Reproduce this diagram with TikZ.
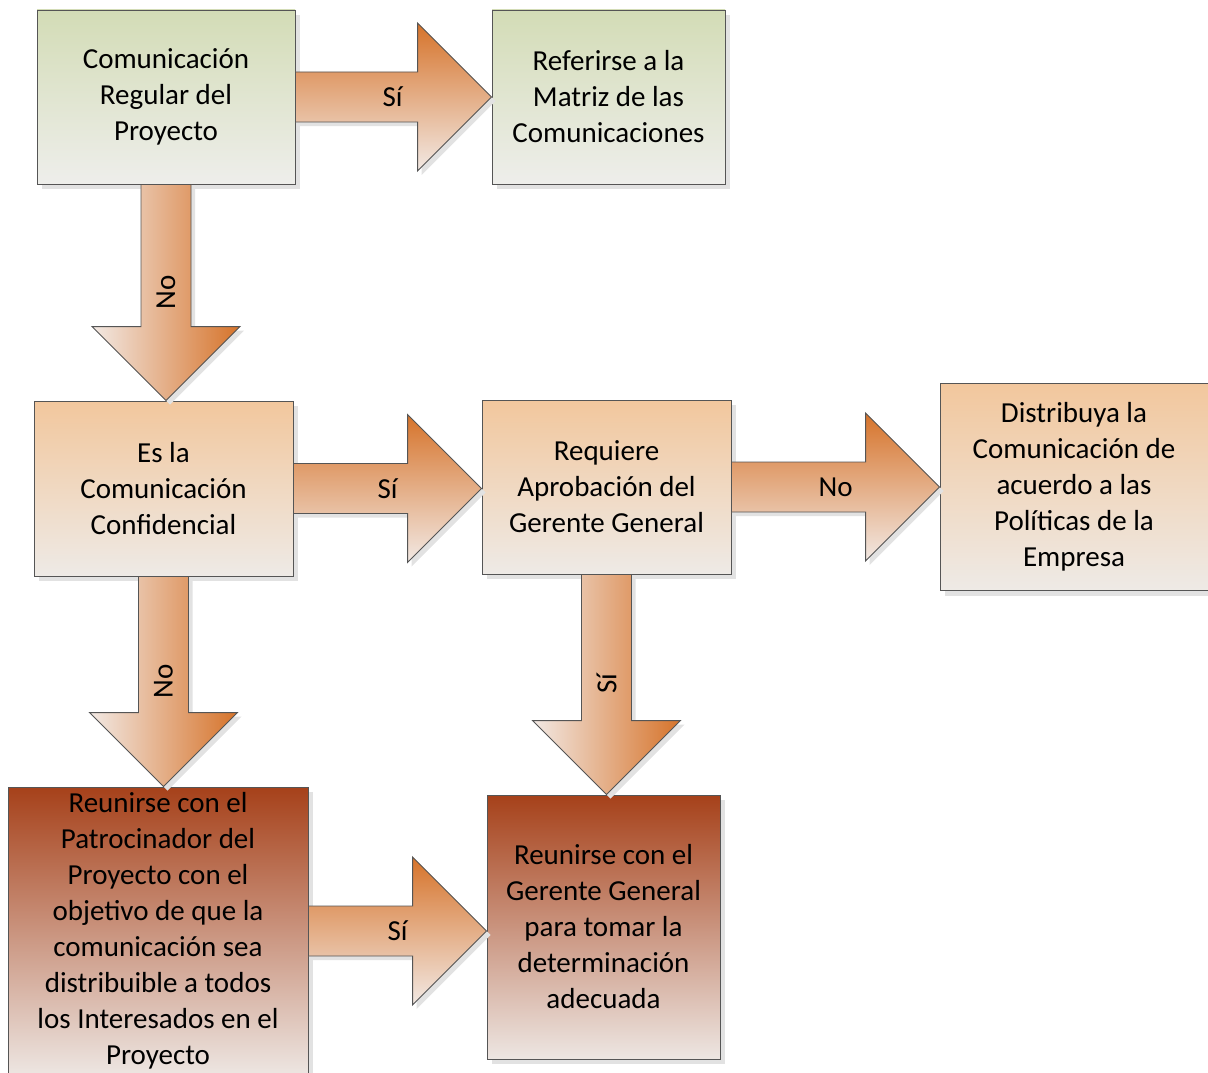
\documentclass[tikz,border=0pt]{standalone}
\usepackage{fontspec}
\setmainfont{Carlito}
\usetikzlibrary{calc,shadows}
\definecolor{boxline}{HTML}{555555}
\definecolor{shadowgray}{HTML}{E2E2E2}
\definecolor{gtop}{HTML}{D3DCB6}
\definecolor{gbot}{HTML}{EEEEEB}
\definecolor{otop}{HTML}{F2C79D}
\definecolor{obot}{HTML}{EEEAE6}
\definecolor{dtop}{HTML}{A6411A}
\definecolor{dmid}{HTML}{CB9075}
\definecolor{dbot}{HTML}{EDE6E2}
\definecolor{adark}{HTML}{D6732A}
\definecolor{amid}{HTML}{E3A675}
\definecolor{alight}{HTML}{F2E9E4}
\tikzset{
  box/.style={draw=boxline, line width=0.9pt, inner sep=0pt, align=center,
    font=\fontsize{29}{36}\selectfont,
    drop shadow={shadow xshift=5pt, shadow yshift=-5pt, fill=shadowgray, opacity=1}},
  greenbox/.style={box, top color=gtop, bottom color=gbot},
  orangebox/.style={box, top color=otop, bottom color=obot},
  darkbox/.style={box, top color=dtop, middle color=dmid, bottom color=dbot},
  arrowR/.style={draw=boxline, line width=0.9pt, line join=miter,
    top color=adark, middle color=amid, bottom color=alight,
    preaction={fill=shadowgray, transform canvas={xshift=4pt, yshift=-4pt}}},
  arrowD/.style={draw=boxline, line width=0.9pt, line join=miter,
    left color=alight, middle color=amid, right color=adark,
    preaction={fill=shadowgray, transform canvas={xshift=4pt, yshift=-4pt}}},
  lbl/.style={font=\fontsize{29}{36}\selectfont, inner sep=0pt}
}
% #1 from node, #2 to node, #3 label, #4 label distance back from head
\newcommand{\myRarrow}[4]{%
  \shade[arrowR] let \p1=(#1.east), \p2=(#2.west), \n1={\x2-74pt} in
    (\x1,\y1+25pt) -- (\n1,\y1+25pt) -- (\n1,\y1+74pt) -- (\x2,\y1)
    -- (\n1,\y1-74pt) -- (\n1,\y1-25pt) -- (\x1,\y1-25pt) -- cycle
    node[lbl] at (\n1-#4,\y1) {#3};}
\newcommand{\myDarrow}[4]{%
  \shade[arrowD] let \p1=(#1.south), \p2=(#2.north), \n1={\y2+74pt} in
    (\x1-25pt,\y1) -- (\x1-25pt,\n1) -- (\x1-74pt,\n1) -- (\x1,\y2)
    -- (\x1+74pt,\n1) -- (\x1+25pt,\n1) -- (\x1+25pt,\y1) -- cycle
    node[lbl, rotate=90] at (\x1,\n1+#4) {#3};}
\begin{document}
\begin{tikzpicture}[x=1pt, y=-1pt]
\useasboundingbox (0,0) rectangle (1208,1073);
\node[greenbox, minimum width=258pt, minimum height=174pt] (reg) at (166,97)
  {Comunicación\\Regular del\\Proyecto};
\node[greenbox, minimum width=233pt, minimum height=174pt] (mat) at (608.5,97)
  {Referirse a la\\Matriz de las\\Comunicaciones};
\node[orangebox, minimum width=259pt, minimum height=175pt] (conf) at (163.5,488.5)
  {Es la\\Comunicación\\Confidencial};
\node[orangebox, minimum width=249pt, minimum height=174pt] (apr) at (606.5,487)
  {Requiere\\Aprobación del\\Gerente General};
\node[orangebox, minimum width=268pt, minimum height=207pt] (dist) at (1074,487)
  {Distribuya la\\Comunicación de\\acuerdo a las\\Políticas de la\\Empresa};
\node[darkbox, minimum width=300pt, minimum height=288pt] (pat) at (158,931)
  {Reunirse con el\\Patrocinador del\\Proyecto con el\\objetivo de que la\\comunicación sea\\distribuible a todos\\los Interesados en el\\Proyecto};
\node[darkbox, minimum width=233pt, minimum height=264pt] (ger) at (603.5,927)
  {Reunirse con el\\Gerente General\\para tomar la\\determinación\\adecuada};
\myRarrow{reg}{mat}{Sí}{25pt}
\myDarrow{reg}{conf}{No}{34pt}
\myRarrow{conf}{apr}{Sí}{20pt}
\myRarrow{apr}{dist}{No}{30pt}
\myDarrow{conf}{pat}{No}{31pt}
\myDarrow{apr}{ger}{Sí}{37pt}
\myRarrow{pat}{ger}{Sí}{15pt}
\end{tikzpicture}
\end{document}
